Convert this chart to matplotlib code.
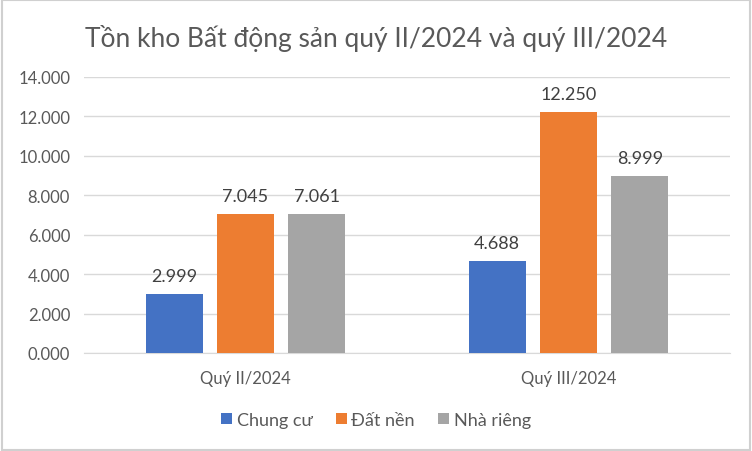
import numpy as np
import matplotlib.pyplot as plt
from matplotlib.patches import Rectangle

categories = ["Quý II/2024", "Quý III/2024"]
series_names = ["Chung cư", "Đất nền", "Nhà riêng"]
chung_cu = [2999, 4688]
dat_nen = [7045, 12250]
nha_rieng = [7061, 8999]
value_labels = [["2.999", "4.688"], ["7.045", "12.250"], ["7.061", "8.999"]]
yticks = [0, 2000, 4000, 6000, 8000, 10000, 12000, 14000]
ytick_labels = ["0.000", "2.000", "4.000", "6.000", "8.000", "10.000", "12.000", "14.000"]

colors = ["#4472C4", "#ED7D31", "#A5A5A5"]
text_col = "#595959"
plt.rcParams['font.family'] = ['Lato', 'DejaVu Sans']

fig = plt.figure(figsize=(7.52, 4.52), dpi=100)
ax = fig.add_axes([84/752, 1-354/452, (730-84)/752, (354-78)/452])

x = np.arange(len(categories))
width = 0.176
step = 0.221
for i, (vals, name) in enumerate(zip([chung_cu, dat_nen, nha_rieng], series_names)):
    bars = ax.bar(x + (i-1)*step, vals, width, color=colors[i], label=name, zorder=3)
    for b, lab in zip(bars, value_labels[i]):
        ax.text(b.get_x()+b.get_width()/2, b.get_height()+500, lab,
                ha='center', va='bottom', fontsize=13, color='#404040')

ax.set_xlim(-0.5, 1.5)
ax.set_ylim(0, 14000)
ax.set_yticks(yticks)
ax.set_yticklabels(ytick_labels, fontsize=12, color=text_col)
ax.set_xticks(x)
ax.set_xticklabels(categories, fontsize=12, color=text_col)
ax.tick_params(length=0, pad=10)
ax.tick_params(axis='x', pad=12)
ax.grid(axis='y', color='#D9D9D9', linewidth=1, zorder=0)
for s in ['top', 'right', 'left']:
    ax.spines[s].set_visible(False)
ax.spines['bottom'].set_color('#D9D9D9')

fig.text(0.5, 1-38/452, "Tồn kho Bất động sản quý II/2024 và quý III/2024",
         ha='center', va='center', fontsize=19, color=text_col)
fig.legend(loc='center', bbox_to_anchor=(0.5, 1-421/452), ncol=3, frameon=False,
           fontsize=13, labelcolor=text_col, handlelength=0.6, handleheight=0.6,
           handletextpad=0.25, columnspacing=1.3)
fig.patches.append(Rectangle((0.002, 0.002), 0.996, 0.996, transform=fig.transFigure,
                             fill=False, edgecolor='#D0D0D0', linewidth=1.5))

fig.savefig("out.png", dpi=100)
